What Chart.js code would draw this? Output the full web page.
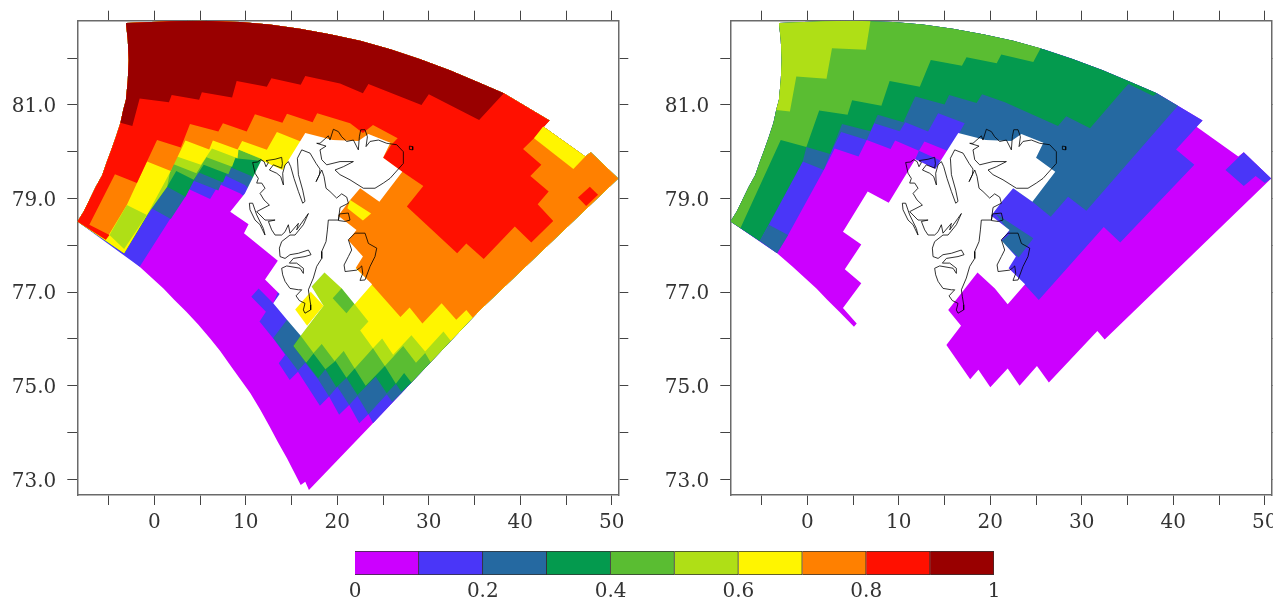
<!DOCTYPE html>
<html>
<head>
  <meta charset="UTF-8" />
  <title>Svalbard fields</title>
  <script src="https://cdn.jsdelivr.net/npm/chart.js"></script>
  <style>
    html, body { margin: 0; padding: 0; background: #fff; overflow: hidden; width: 1273px; height: 599px; }
    canvas { position: absolute; }
    #left { left: 0; top: 0; }
    #right { left: 653px; top: 0; }
    #bar { left: 300px; top: 540px; }
  </style>
</head>
<body>
  <canvas id="left" width="650" height="535"></canvas>
  <canvas id="right" width="650" height="535"></canvas>
  <canvas id="bar" width="750" height="59"></canvas>

  <script>
    // colour classes, low to high
    const binColors = ['#cc00ff', '#4a36f8', '#2569a1', '#049a4e', '#5abd32', '#afdf16', '#fff500', '#ff8000', '#ff1000', '#990000'];
    const binWidths = [0.1, 0.1, 0.1, 0.1, 0.1, 0.1, 0.1, 0.1, 0.1, 0.1];
    const barLabels = [0, 0.2, 0.4, 0.6, 0.8, 1];
    const lonLabels = [0, 10, 20, 30, 40, 50];
    const latLabels = [73, 75, 77, 79, 81];

    // edge of the model domain, [lon, lat]
    const arcEast = [[35.6,76.62],[50.7,79.43],[47.7,79.99],[47.1,79.90],[42.5,80.54]];
    const arcNorth = [[43.2,80.67],[40.5,80.98],[38.2,81.25],[35.6,81.47],[32.3,81.74],[29.0,81.98],[25.8,82.19],[22.5,82.37],[19.2,82.51],[15.9,82.63],[12.6,82.72],[9.4,82.77],[5.0,82.80],[1.7,82.79],[-3.1,82.75]];
    const arcWest = [[-2.9,82.39],[-2.8,81.96],[-2.9,81.53],[-3.1,81.11],[-3.4,80.89],[-3.7,80.62],[-4.2,80.32],[-4.7,80.04],[-5.2,79.78],[-5.7,79.50],[-6.4,79.25],[-7.1,78.97],[-7.7,78.73],[-8.4,78.51]];
    const arcSouth = [[-3.3,77.83],[-1.6,77.54],[1.0,77.08],[2.2,76.83],[3.5,76.58],[4.8,76.31],[6.1,76.01],[7.2,75.74],[8.3,75.44],[9.4,75.14],[10.5,74.84],[11.6,74.48],[12.6,74.13],[13.5,73.80],[14.5,73.45],[16.0,72.88],[16.5,72.95],[16.9,72.77],[23.9,74.20]];

    // cells with no data around the islands
    const gapEast = [[16.5,80.40],[19.5,80.25],[22.3,80.23],[23.4,80.38],[25.8,80.19],[25.0,79.87],[27.1,79.57],[24.6,78.93],[22.5,79.22],[21.4,78.97],[20.1,78.63],[22.1,78.33],[21.2,78.11],[22.8,77.76],[22.0,77.51],[23.8,77.17],[21.9,76.74],[20.5,77.08],[18.6,77.42]];
    const gapWestA = [[17.2,77.12],[18.5,76.71],[16.0,76.07],[14.5,76.41],[13.0,76.76],[13.7,76.96],[12.1,77.27],[13.5,77.67],[9.8,78.26],[10.3,78.45],[8.3,78.72],[9.9,79.11],[11.7,79.82],[14.0,79.61]];
    const gapWestB = [[15.4,76.62],[16.8,76.28],[15.2,75.87],[5.4,76.33],[3.9,76.66],[5.9,77.19],[4.1,77.49],[5.9,78.02],[3.9,78.29],[6.6,79.15],[8.9,78.91],[11.8,79.84],[14.0,79.63]];

    // left panel: lower edge of each class and everything above it
    const aBlue = [[-1.6,77.54],[3.8,79.20],[6.1,78.99],[7.1,79.31],[9.4,79.11],[15.9,78.11],[13.0,76.76],[11.4,77.08],[10.6,76.90],[12.2,76.58],[11.5,76.37],[13.0,76.01],[14.3,75.66],[13.6,75.48],[14.8,75.12],[15.7,75.30],[18.1,74.57],[19.1,74.77],[20.2,74.38],[21.3,74.59],[22.4,74.20],[23.4,74.39],[23.9,74.20]];
    const aSteel = [[-3.3,77.83],[-0.3,78.79],[1.8,78.56],[3.4,79.04],[4.3,79.38],[7.0,79.17],[7.7,79.50],[9.9,79.29],[15.9,78.11],[14.5,76.41],[13.0,76.02],[15.7,75.32],[16.5,75.49],[17.9,75.14],[19.1,74.77],[20.0,74.98],[21.3,74.59],[22.2,74.78],[23.4,74.39],[25.4,74.82],[26.0,74.65],[27.0,74.84]];
    const aDark = [[-3.3,77.83],[-0.3,78.79],[1.4,79.25],[3.4,79.04],[4.8,79.56],[7.5,79.34],[8.2,79.68],[10.6,79.48],[15.9,78.11],[16.0,76.07],[15.2,75.85],[16.6,75.49],[17.9,75.16],[18.7,75.35],[19.9,74.97],[21.0,75.17],[22.2,74.80],[24.2,75.19],[25.4,74.84],[26.4,75.04],[27.0,74.87],[28.1,75.07]];
    const aGreen = [[-3.3,77.83],[-0.3,78.79],[1.4,79.25],[2.4,79.59],[4.3,79.40],[5.4,79.72],[8.1,79.52],[8.8,79.86],[11.6,79.81],[15.9,78.11],[16.0,76.07],[15.2,75.85],[16.6,75.49],[17.4,75.69],[18.7,75.35],[19.8,75.53],[21.0,75.17],[21.9,75.37],[23.1,75.0],[25.2,75.42],[26.4,75.04],[27.3,75.27],[28.1,75.07]];
    const aLime = [[-3.3,77.83],[-0.8,78.65],[1.4,79.25],[1.9,79.75],[4.6,79.54],[5.7,79.88],[8.5,79.68],[9.2,80.05],[12.3,79.79],[15.9,78.11],[18.6,77.42],[17.2,77.12],[18.5,76.71],[16.0,76.07],[17.4,75.70],[18.3,75.89],[19.7,75.53],[20.7,75.74],[21.9,75.37],[23.9,75.80],[25.2,75.42],[27.2,75.85],[28.6,75.49],[29.6,75.70],[30.2,75.50]];
    const aYellow = [[-3.3,77.83],[-0.8,78.65],[1.8,79.59],[2.3,79.91],[5.1,79.72],[6.3,80.07],[9.1,79.86],[9.2,80.05],[11.7,79.85],[19.2,78.11],[21.9,76.74],[23.4,76.37],[22.5,76.18],[23.9,75.80],[24.9,76.01],[26.1,75.66],[28.1,76.08],[29.6,75.73],[31.6,76.16],[32.4,75.96]];
    const aOrange = [[-5.3,78.12],[-3.0,78.86],[-0.8,79.79],[1.8,79.59],[3.4,80.24],[6.0,80.05],[6.4,80.24],[9.1,80.05],[9.6,80.23],[12.3,80.04],[13.4,80.42],[16.0,80.22],[19.2,78.11],[23.8,77.15],[26.9,76.47],[27.9,76.67],[29.3,76.33],[31.4,76.76],[33.0,76.41],[34.1,76.62],[34.8,76.45]];
    const aRed = [[-5.3,78.12],[-4.9,78.22],[-7.1,78.44],[-4.3,79.52],[-1.9,79.33],[0.3,80.25],[2.9,80.09],[3.9,80.59],[7.0,80.43],[7.5,80.61],[10.1,80.43],[11.0,80.80],[14.0,80.62],[14.5,80.81],[17.3,80.63],[17.8,80.82],[21.4,80.61],[22.8,80.40],[23.9,80.57],[26.6,80.29],[25.9,80.15],[25.0,79.87],[27.1,79.57],[29.4,79.27],[27.6,78.83],[33.1,77.83],[34.1,78.04],[36.0,77.71],[39.4,78.40],[41.2,78.06],[43.6,78.52],[41.9,78.88],[43.1,79.15],[41.1,79.48],[42.3,79.72],[40.3,80.06],[41.5,80.29]];
    const aMaroon = [[-3.7,80.62],[-2.4,80.55],[-1.6,81.14],[1.6,81.06],[1.9,81.21],[4.9,81.11],[5.2,81.27],[8.5,81.16],[9.0,81.51],[12.3,81.39],[12.8,81.57],[16.0,81.43],[16.5,81.62],[20.3,81.46],[22.8,81.25],[23.4,81.45],[29.2,81.0],[30.0,81.23],[35.5,80.68],[38.2,81.25]];
    const aLimeWest = [[-4.9,78.22],[-3.0,78.86],[-0.8,78.65],[-3.3,77.92]];
    const aGreenCell = [[20.5,77.09],[21.9,76.76],[21.0,76.55],[19.5,76.87]];
    const aYellowNorth = [[21.4,78.97],[23.7,78.68],[22.8,78.53],[21.1,78.79]];
    const aYellowEast = [[41.5,80.29],[42.5,80.54],[47.1,79.90],[45.8,79.63]];
    const aRedCell = [[46.3,79.02],[47.6,79.25],[48.5,79.08],[47.2,78.84]];
    const aYellowSouth = [[15.4,76.63],[17.1,77.01],[18.5,76.71],[16.7,76.28]];

    // right panel
    const bBase = [[-3.3,77.83],[-1.6,77.54],[1.0,77.08],[2.2,76.83],[3.5,76.58],[5.1,76.26],[5.4,76.33],[10.0,77.5],[15.2,75.87],[17.8,75.14],[18.7,75.34],[20.0,74.97],[21.9,75.37],[23.2,75.0],[25.1,75.42],[26.4,75.07],[31.7,76.17],[32.5,75.99]];
    const bBlue = [[-3.3,77.83],[-2.1,78.22],[1.8,79.61],[3.0,80.07],[5.6,79.90],[6.5,80.25],[9.1,80.06],[9.6,80.24],[12.2,80.02],[11.8,79.84],[14.0,79.63],[15.9,78.11],[22.0,77.51],[23.8,77.15],[25.3,76.83],[32.4,78.39],[34.2,78.06],[42.3,79.72],[40.3,80.05],[42.6,80.54]];
    const bSteel = [[-5.2,78.09],[-4.2,78.44],[-0.5,79.79],[1.8,79.61],[2.5,79.95],[3.7,80.42],[6.5,80.25],[7.3,80.61],[10.1,80.44],[10.7,80.63],[13.2,80.43],[14.3,80.82],[17.2,80.61],[16.6,80.40],[22.5,79.22],[24.6,78.93],[26.6,78.61],[28.5,79.04],[30.5,78.74],[40.5,80.98]];
    const bDark = [[-5.2,78.09],[-0.5,79.79],[-0.1,80.10],[2.5,79.95],[3.8,80.59],[6.9,80.44],[7.7,80.79],[10.5,80.63],[11.8,81.18],[15.0,81.01],[15.5,81.21],[18.5,81.04],[19.1,81.23],[21.6,81.06],[27.4,80.55],[28.3,80.76],[30.9,80.50],[34.5,81.32],[35.1,81.45],[37.8,81.19],[38.2,81.25]];
    const bGreen = [[-7.3,78.37],[-2.9,80.25],[-0.1,80.10],[1.3,80.88],[4.4,80.79],[4.9,81.10],[8.1,80.98],[9.0,81.51],[12.3,81.39],[13.5,81.96],[16.9,81.84],[17.4,82.02],[20.7,81.89],[21.2,82.08],[24.7,81.92],[25.5,82.21]];
    const bLime = [[-3.4,80.89],[-3.1,81.11],[-2.9,81.53],[-2.8,81.96],[-2.9,82.39],[-3.1,82.75],[1.7,82.79],[5.0,82.80],[6.9,82.79],[6.4,82.18],[2.7,82.21],[2.1,81.56],[-1.2,81.61],[-1.9,80.86]];
    const bSteelWest = [[-5.2,78.09],[-4.2,78.44],[-2.1,78.22],[-3.3,77.83]];
    const bSteelCoast = [[20.5,78.69],[24.7,78.15],[23.1,77.74],[21.2,78.08],[22.2,78.26]];
    const bPurpleCell = [[12.8,80.22],[15.3,80.02],[14.6,79.81],[12.2,80.02]];
    const bBlueEast = [[45.7,79.61],[47.7,79.99],[50.7,79.43],[50.0,79.33],[49.0,79.48],[47.7,79.27]];

    // coastline
    const coastMain = [[10.75,79.77],[11.26,79.78],[11.63,79.83],[12.0,79.79],[12.21,79.68],[12.47,79.77],[12.21,79.81],[13.2,79.84],[13.92,79.88],[14.0,79.75],[13.92,79.65],[13.01,79.72],[12.58,79.61],[13.38,79.54],[13.81,79.47],[14.11,79.29],[14.03,79.54],[14.29,79.72],[14.65,79.79],[14.91,79.68],[15.27,79.43],[15.75,79.15],[16.22,78.90],[16.47,78.94],[16.22,79.18],[15.75,79.51],[15.64,79.86],[16.11,80.04],[17.02,79.97],[17.68,79.75],[18.11,79.63],[18.04,79.51],[17.68,79.36],[18.3,79.61],[18.55,79.47],[18.77,79.22],[19.2,79.15],[19.93,79.01],[20.48,79.10],[21.03,79.03],[21.21,78.90],[20.3,78.81],[20.12,78.54],[19.02,78.54],[18.92,78.33],[18.77,78.08],[18.3,77.87],[18.3,77.72],[17.75,77.55],[17.38,77.30],[16.84,77.05],[16.95,76.90],[17.09,76.73],[17.09,76.62],[16.47,76.55],[16.29,76.62],[16.47,76.76],[15.85,76.82],[15.49,76.92],[16.11,77.05],[15.75,77.05],[14.83,77.08],[14.29,77.23],[14.03,77.37],[13.92,77.51],[14.47,77.56],[15.93,77.51],[16.29,77.40],[16.29,77.51],[15.56,77.62],[14.76,77.62],[15.2,77.72],[16.47,77.76],[17.13,77.80],[16.84,77.90],[15.75,77.83],[14.83,77.80],[14.29,77.72],[13.74,77.76],[13.67,77.94],[13.92,78.08],[14.83,78.22],[15.38,78.22],[16.29,78.44],[16.84,78.68],[16.47,78.58],[15.56,78.33],[15.75,78.47],[14.83,78.26],[14.65,78.44],[14.29,78.29],[13.92,78.22],[13.2,78.22],[12.83,78.33],[12.47,78.51],[13.2,78.54],[12.1,78.54],[11.19,78.72],[12.58,78.86],[11.99,78.97],[11.56,79.11],[12.1,79.22],[11.74,79.33],[11.19,79.33],[11.37,79.43],[11.01,79.54],[10.75,79.77]];
    const coastForland = [[10.46,78.76],[11.01,78.54],[11.56,78.44],[12.1,78.22],[11.92,78.36],[11.19,78.65],[10.75,78.90],[10.39,78.90],[10.46,78.76]];
    const coastEdge = [[21.94,78.26],[23.03,78.26],[23.4,78.04],[24.31,77.94],[24.12,77.76],[23.58,77.55],[23.03,77.26],[22.48,77.25],[22.78,77.40],[22.67,77.56],[22.41,77.51],[22.12,77.47],[20.85,77.44],[20.74,77.58],[21.21,77.76],[21.57,77.90],[21.21,78.12],[21.94,78.26]];
    const coastBarents = [[20.23,78.67],[21.21,78.69],[21.39,78.54],[20.85,78.51],[20.12,78.53],[20.23,78.67]];
    const coastNord = [[17.75,80.18],[18.77,80.12],[18.11,80.04],[18.3,79.83],[18.84,79.72],[20.3,79.79],[21.76,79.79],[20.66,79.68],[19.75,79.61],[20.3,79.51],[21.39,79.40],[22.85,79.22],[24.12,79.22],[25.03,79.33],[25.76,79.43],[27.22,79.75],[27.22,80.0],[26.49,80.15],[25.4,80.18],[24.49,80.25],[23.58,80.22],[23.14,80.11],[23.29,80.32],[23.03,80.47],[22.56,80.47],[22.41,80.32],[22.3,80.04],[21.76,80.25],[21.03,80.22],[20.48,80.32],[20.12,80.43],[19.57,80.48],[19.2,80.25],[19.02,80.34],[18.11,80.18],[17.75,80.18]];
    const coastIslet = [[27.88,80.12],[28.24,80.11],[28.24,80.04],[27.88,80.05],[27.88,80.12]];
    const coasts = [coastMain, coastForland, coastEdge, coastBarents, coastNord, coastIslet];

    const serif = { family: '"DejaVu Serif", serif', size: 20 };
    const frame = '#6a6a6a';

    const area = (poly, color) => ({
      data: poly.map(([x, y]) => ({ x, y })),
      showLine: true,
      fill: 'shape',
      backgroundColor: color,
      borderWidth: 0,
      pointRadius: 0
    });
    const line = poly => ({
      data: poly.map(([x, y]) => ({ x, y })),
      showLine: true,
      fill: false,
      borderColor: '#000',
      borderWidth: 0.8,
      pointRadius: 0
    });

    const [purple, blue, steel, dark, green, lime, yellow, orange, red, maroon] = binColors;
    const full = [...arcEast, ...arcNorth, ...arcWest];

    const leftLayers = [
      area([...full, ...arcSouth], purple),
      area([...aBlue, ...full], blue),
      area([...aSteel, ...full], steel),
      area([...aDark, ...full], dark),
      area([...aGreen, ...full], green),
      area([...aLime, ...full], lime),
      area([...aYellow, ...full], yellow),
      area([...aOrange, ...full], orange),
      area([...aRed, ...arcNorth, ...arcWest], red),
      area([...aMaroon, ...arcNorth.slice(3), ...arcWest.slice(0, 5)], maroon),
      area(aLimeWest, lime),
      area(aGreenCell, green),
      area(aYellowNorth, yellow),
      area(aYellowEast, yellow),
      area(aRedCell, red),
      area([...gapEast, ...gapWestA], '#fff'),
      area(aYellowSouth, yellow),
      ...coasts.map(line)
    ];

    const rightLayers = [
      area([...bBase, ...arcEast.slice(1), ...arcNorth, ...arcWest], purple),
      area([...bBlue, ...arcNorth, ...arcWest], blue),
      area([...bSteel, ...arcNorth.slice(2), ...arcWest], steel),
      area([...bDark, ...arcNorth.slice(3), ...arcWest], dark),
      area([...bGreen, ...arcNorth.slice(7), ...arcWest], green),
      area(bLime, lime),
      area(bSteelWest, steel),
      area(bSteelCoast, steel),
      area(bPurpleCell, purple),
      area(bBlueEast, blue),
      area([...gapEast, ...gapWestB], '#fff'),
      ...coasts.map(line)
    ];

    function axis(min, max, step, size, labels, fmt, shown, pad, nudge) {
      return {
        min, max,
        afterFit: s => {
          if (s.isHorizontal()) s.height = size; else s.width = size;
          // keep the plot box where it is, whatever the labels ask for
          s.paddingTop = s.paddingBottom = s.paddingLeft = s.paddingRight = 0;
        },
        border: { color: frame, width: 1.5 },
        grid: { drawOnChartArea: false, tickLength: 10, color: '#444', lineWidth: 1 },
        ticks: {
          display: shown,
          stepSize: step,
          includeBounds: false,
          autoSkip: false,
          maxRotation: 0,
          minRotation: 0,
          padding: pad,
          labelOffset: nudge,
          color: '#333',
          font: serif,
          callback: v => (labels.includes(v) ? fmt(v) : '')
        }
      };
    }

    function panel(id, layers) {
      // Chart.js paints the first dataset last
      new Chart(document.getElementById(id), {
        type: 'scatter',
        data: { datasets: layers.slice().reverse() },
        options: {
          responsive: false,
          animation: false,
          layout: { padding: 0 },
          plugins: { legend: { display: false }, tooltip: { enabled: false } },
          scales: {
            x: axis(-8.415, 50.71, 5, 40, lonLabels, v => String(v), true, 6, 0),
            x2: { ...axis(-8.415, 50.71, 5, 20.7, [], v => '', false, 6, 0), position: 'top' },
            y: axis(72.665, 82.8, 1, 77.3, latLabels, v => v.toFixed(1), true, 11, 2),
            y2: { ...axis(72.665, 82.8, 1, 31.7, [], v => '', false, 6, 0), position: 'right' }
          }
        }
      });
    }
    panel('left', leftLayers);
    panel('right', rightLayers);

    new Chart(document.getElementById('bar'), {
      type: 'bar',
      data: {
        labels: [''],
        datasets: binColors.map((c, i) => ({
          data: [binWidths[i]],
          backgroundColor: c,
          borderColor: '#333',
          borderWidth: 1,
          barPercentage: 1,
          categoryPercentage: 1
        }))
      },
      options: {
        indexAxis: 'y',
        responsive: false,
        animation: false,
        layout: { padding: { left: 55, right: 56, top: 11, bottom: 0 } },
        plugins: { legend: { display: false }, tooltip: { enabled: false } },
        scales: {
          x: {
            stacked: true,
            min: 0,
            max: 1,
            afterFit: s => { s.height = 24; },
            border: { display: false },
            grid: { display: false, drawTicks: false },
            ticks: {
              stepSize: 0.2,
              maxRotation: 0,
              padding: 5,
              color: '#333',
              font: serif,
              callback: v => (barLabels.some(l => Math.abs(l - v) < 1e-6) ? String(+v.toFixed(1)) : '')
            }
          },
          y: { stacked: true, display: false }
        }
      }
    });
  </script>
</body>
</html>
